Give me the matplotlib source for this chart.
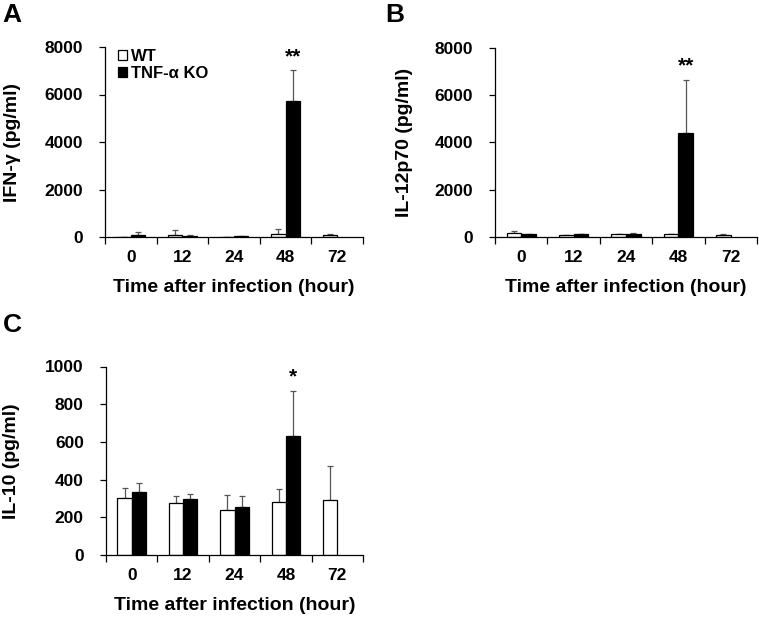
import numpy as np
import matplotlib
matplotlib.use("Agg")
import matplotlib.pyplot as plt
from matplotlib.patches import Patch

plt.rcParams['font.family'] = ['Liberation Sans', 'DejaVu Sans']
plt.rcParams['font.weight'] = 'bold'

times = ["0", "12", "24", "48", "72"]

ifn_wt = [0, 100, 20, 120, 80]
ifn_wt_err = [0, 180, 0, 210, 50]
ifn_ko = [100, 50, 25, 5720, np.nan]
ifn_ko_err = [120, 40, 0, 1300, np.nan]

il12_wt = [150, 100, 110, 130, 100]
il12_wt_err = [110, 0, 0, 0, 40]
il12_ko = [140, 120, 130, 4370, np.nan]
il12_ko_err = [0, 0, 50, 2260, np.nan]

il10_wt = [305, 275, 240, 280, 292]
il10_wt_err = [48, 40, 80, 72, 178]
il10_ko = [332, 297, 255, 632, np.nan]
il10_ko_err = [50, 25, 60, 240, np.nan]

fig = plt.figure(figsize=(7.59, 6.17), dpi=100)

axA = fig.add_axes([105/759, 1-237/617, 258/759, 190/617])
axB = fig.add_axes([495/759, 1-237/617, 262/759, 189.5/617])
axC = fig.add_axes([106/759, 1-555/617, 257/759, 188.5/617])

W = 0.28

def draw(ax, wt, wte, ko, koe, ylim, yticks, ylabel, star, lab_x):
    x = np.arange(len(times))
    ax.bar(x - W/2, wt, W, color='white', edgecolor='black', linewidth=0.9, zorder=2)
    ax.bar(x + W/2, ko, W, color='black', edgecolor='black', linewidth=0.9, zorder=2)
    ekw = dict(fmt='none', ecolor='#555555', elinewidth=0.9, capsize=2.5, capthick=0.9, zorder=1)
    ax.errorbar(x - W/2, wt, yerr=[np.zeros(len(wt)), wte], **ekw)
    ax.errorbar(x + W/2, ko, yerr=[np.zeros(len(ko)), koe], **ekw)
    ax.set_xlim(-0.5, len(times) - 0.5)
    ax.set_ylim(*ylim)
    ax.set_yticks(yticks)
    ax.set_yticklabels([str(v) for v in yticks], fontsize=12.5, fontweight='bold')
    ax.set_xticks(np.arange(-0.5, len(times), 1.0))
    ax.set_xticklabels([])
    ax.set_xticks(x, minor=True)
    ax.set_xticklabels(times, minor=True, fontsize=12.5, fontweight='bold')
    ax.tick_params(axis='x', which='major', direction='out', length=5, width=0.9)
    ax.tick_params(axis='x', which='minor', length=0, pad=9.5)
    ax.tick_params(axis='y', direction='out', length=4, width=0.9, pad=12)
    for s in ['top', 'right']:
        ax.spines[s].set_visible(False)
    for s in ['left', 'bottom']:
        ax.spines[s].set_linewidth(0.9)
    ax.set_ylabel(ylabel, fontsize=14, fontweight='bold')
    ax.yaxis.set_label_coords(lab_x, 0.5)
    ax.set_xlabel("Time after infection (hour)", fontsize=14, fontweight='bold', labelpad=10)
    top = ko[3] + koe[3]
    ax.annotate(star, xy=(3 + W/2, top), xytext=(0, 3), textcoords='offset points',
                ha='center', va='bottom', fontsize=15, fontweight='bold')

draw(axA, ifn_wt, ifn_wt_err, ifn_ko, ifn_ko_err, (0, 8000), [0, 2000, 4000, 6000, 8000],
     "IFN-γ (pg/ml)", "**", -0.326)
draw(axB, il12_wt, il12_wt_err, il12_ko, il12_ko_err, (0, 8000), [0, 2000, 4000, 6000, 8000],
     "IL-12p70 (pg/ml)", "**", -0.313)
draw(axC, il10_wt, il10_wt_err, il10_ko, il10_ko_err, (0, 1000), [0, 200, 400, 600, 800, 1000],
     "IL-10 (pg/ml)", "*", -0.335)

handles = [Patch(facecolor='white', edgecolor='black', linewidth=0.9),
           Patch(facecolor='black', edgecolor='black', linewidth=0.9)]
axA.legend(handles, ["WT", "TNF-α KO"], loc='upper left', bbox_to_anchor=(0.05, 0.99),
           frameon=False, handlelength=0.55, handleheight=0.55, handletextpad=0.25,
           labelspacing=0.1, borderpad=0, borderaxespad=0,
           prop={'size': 12, 'weight': 'bold'})

fig.text(2/759, 1-3/617, "A", fontsize=19, ha='left', va='top')
fig.text(385/759, 1-3/617, "B", fontsize=19, ha='left', va='top')
fig.text(3/759, 1-313/617, "C", fontsize=19, ha='left', va='top')

fig.savefig("out.png", dpi=100)
